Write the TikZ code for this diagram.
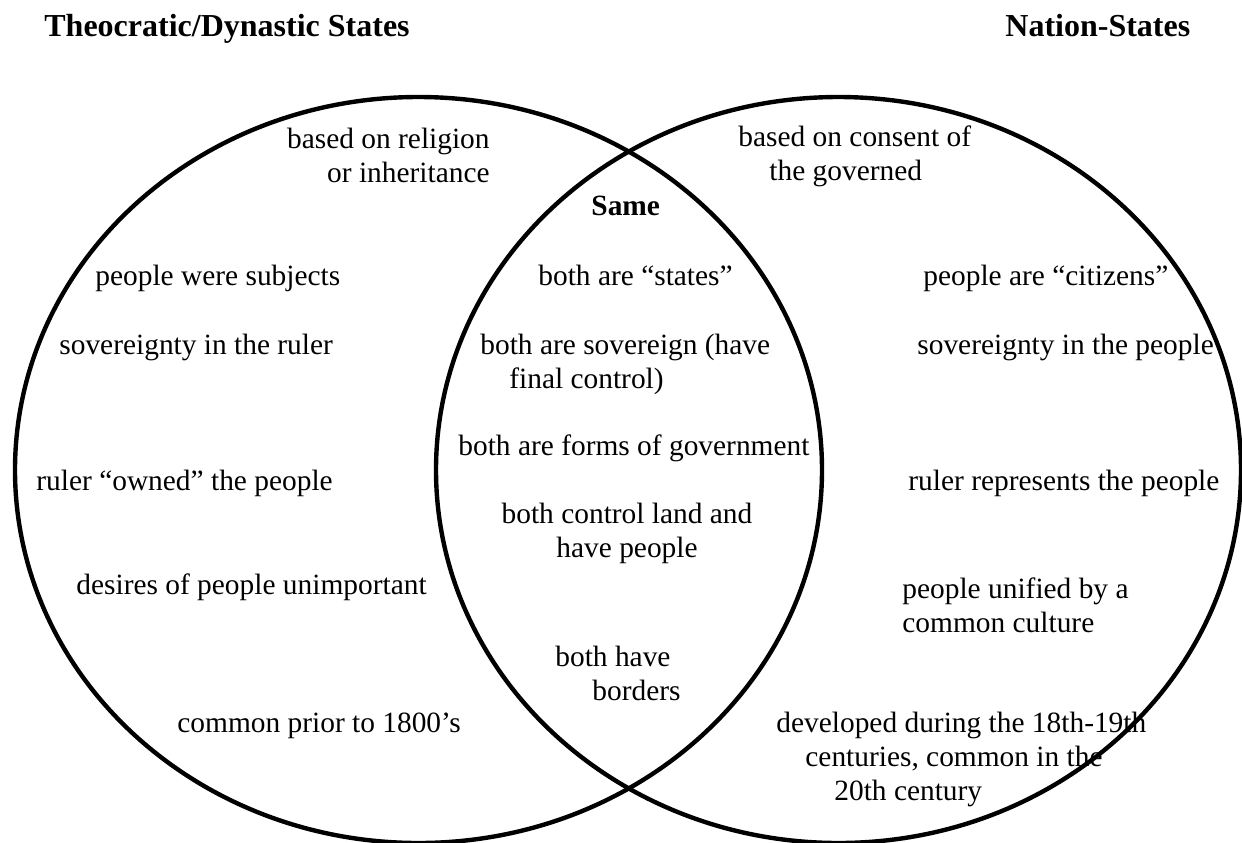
\documentclass[tikz,border=0pt]{standalone}
\usepackage{fontspec}
\setmainfont{Liberation Serif}
\usepackage{tikz}
\usetikzlibrary{positioning}

\begin{document}
\begin{tikzpicture}[x=0.5pt, y=-0.5pt,
  every node/.style={inner sep=0pt, font=\fontsize{14.7}{17}\selectfont},
  txt/.style={anchor=base west},
  lines/.style={anchor=west, align=left},
  head/.style={anchor=base west, font=\fontsize{16}{19}\selectfont\bfseries},
  venn/.style={line width=2.2pt}]
\useasboundingbox (0,0) rectangle (1242,842);

% Headings
\node[head] (theo) at (44,36) {Theocratic/Dynastic States};
\node[head] (nat) at (1005,36) {Nation-States};

% Circles
\draw[venn] (418.5,470) ellipse [x radius=201.75pt, y radius=186.5pt];
\draw[venn] (838.5,470) ellipse [x radius=201.25pt, y radius=186.5pt];

% Left side
\node[anchor=east, align=right] (relig) at (490,155.5) {based on religion\\or inheritance};
\node[txt] (subj) at (95,285) {people were subjects};
\node[txt] (sovr) at (59,354) {sovereignty in the ruler};
\node[txt] (owned) at (36,490) {ruler “owned” the people};
\node[txt] (desire) at (76,594) {desires of people unimportant};
\node[txt] (prior) at (177,732) {common prior to 1800’s};

% Middle
\node[txt, font=\fontsize{14.7}{17}\selectfont\bfseries] (same) at (591,215) {Same};
\node[txt] (states) at (538,285) {both are “states”};
\node[lines] (sovboth) at (480,364.5) {both are sovereign (have\\\hspace{14.5pt}final control)};
\node[txt] (forms) at (458,455) {both are forms of government};
\node[align=center] (land) at (627,533.5) {both control land and\\have people};
\node[lines] (border) at (555,673.5) {both have\\\hspace{18.5pt}borders};

% Right side
\node[lines] (consent) at (738,156) {based on consent of\\\hspace{15.5pt}the governed};
\node[txt] (citiz) at (923,285) {people are “citizens”};
\node[txt] (sovp) at (917,354) {sovereignty in the people};
\node[txt] (repr) at (908,490) {ruler represents the people};
\node[lines] (unif) at (902,605) {people unified by a\\common culture};
\node[lines] (devel) at (776,759) {developed during the 18th-19th\\\hspace{14.5pt}centuries, common in the\\\hspace{29pt}20th century};
\end{tikzpicture}
\end{document}
